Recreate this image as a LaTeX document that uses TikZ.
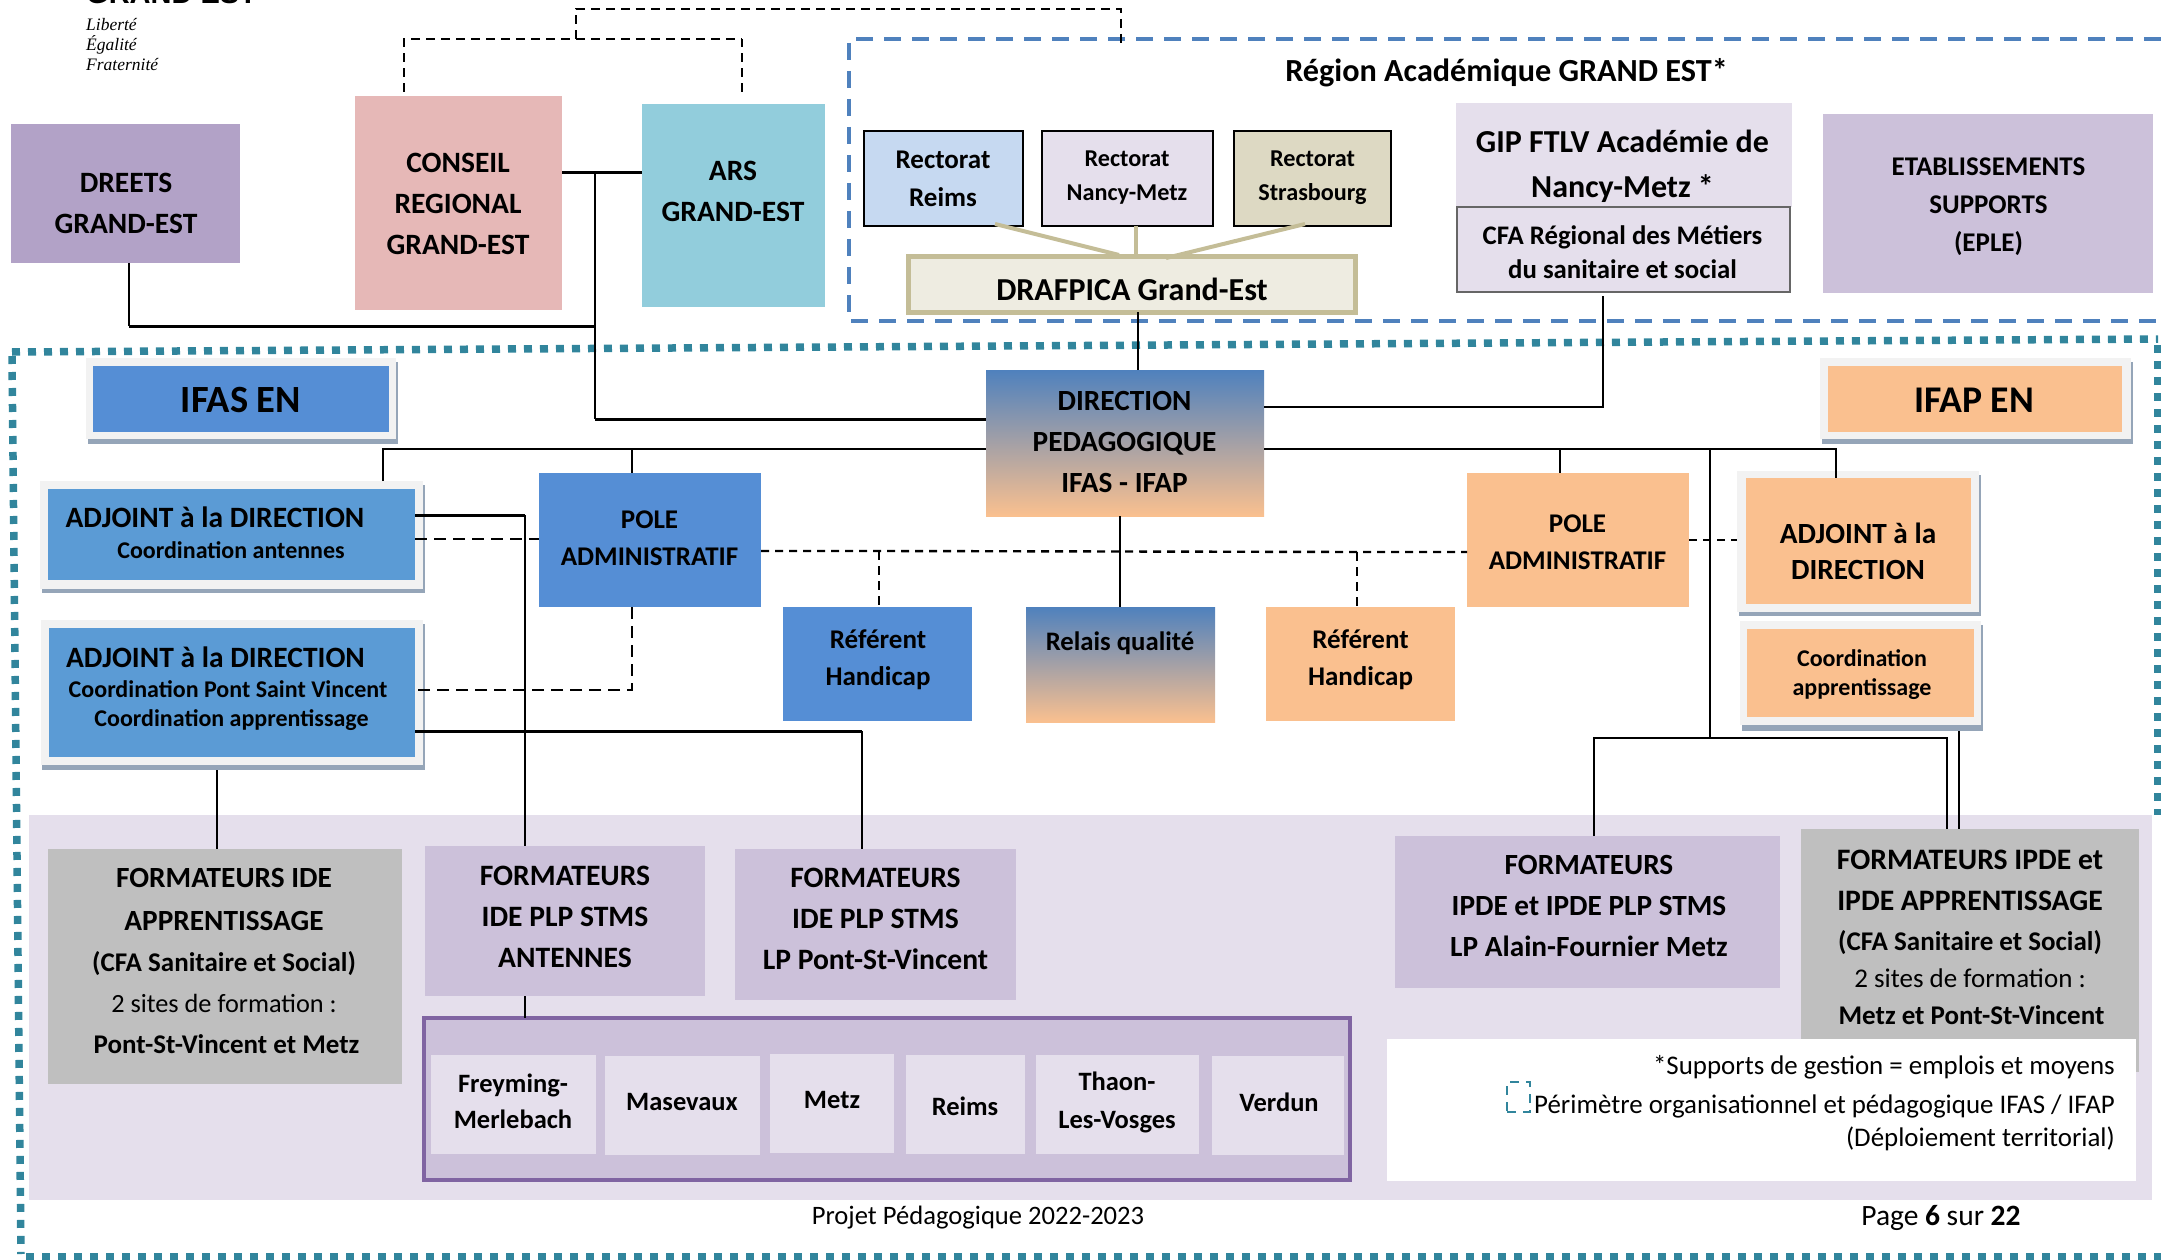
\documentclass[tikz,border=0pt]{standalone}
\usepackage{fontspec}
\setmainfont{Carlito}
\newfontfamily\serifital{Liberation Serif}
\newfontfamily\headsans{Liberation Sans}
\definecolor{cBlue}{HTML}{558ED5}
\definecolor{cBlueB}{HTML}{5B9BD5}
\definecolor{cOrange}{HTML}{FAC08F}
\definecolor{cLav}{HTML}{E5DFEC}
\definecolor{cMauve}{HTML}{CCC1DA}
\definecolor{cGray}{HTML}{BFBFBF}
\definecolor{cShadow}{HTML}{95A5B8}
\definecolor{cTan}{HTML}{C4BD97}
\definecolor{cTeal}{HTML}{31859C}
\definecolor{cDash}{HTML}{4F81BD}
\definecolor{cPanel}{HTML}{F2F2F2}
\definecolor{cDreets}{HTML}{B2A2C7}
\definecolor{cConseil}{HTML}{E6B8B7}
\definecolor{cArs}{HTML}{92CDDC}
\definecolor{cRectA}{HTML}{C6D9F1}
\definecolor{cRectC}{HTML}{DDD9C3}
\definecolor{cDraf}{HTML}{EEECE1}
\definecolor{cCfaLine}{HTML}{666666}
\definecolor{cFrame}{HTML}{8064A2}
\tikzset{
  boxbase/.style={rectangle,inner sep=0pt,outer sep=0pt},
  bf/.style 2 args={font=\fontsize{#1}{#2}\selectfont\bfseries,align=center,inner sep=0pt},
  rg/.style 2 args={font=\fontsize{#1}{#2}\selectfont,align=center,inner sep=0pt},
  conn/.style={draw=black,line width=2pt},
  connthick/.style={draw=black,line width=3pt},
  connthin/.style={draw=black,line width=1.5pt},
  dashthin/.style={draw=black,line width=1.6pt,dash pattern=on 9pt off 6pt},
  dashmid/.style={draw=black,line width=2.4pt,dash pattern=on 8pt off 6pt},
  dashthick/.style={draw=black,line width=2.8pt,dash pattern=on 12pt off 7pt},
  tanline/.style={draw=cTan,line width=4pt},
  tealdash/.style={draw=cTeal,line width=7.5pt,dash pattern=on 8pt off 8pt},
  bluedash/.style={draw=cDash,line width=3.6pt,dash pattern=on 17pt off 11pt},
  gradbox/.style={top color=cDash,bottom color=cOrange},
}
\newcommand{\bx}[6]{\node[boxbase,#6,minimum width={(#4-#2)*1pt},minimum height={(#5-#3)*1pt},anchor=north west] (#1) at (#2,#3) {};}
\newcommand{\tx}[5]{\node[#4] (#1) at (#2,#3) {#5};}
\begin{document}
\begin{tikzpicture}[x=1pt,y=-1pt]
\useasboundingbox (0,0) rectangle (2161,1260);
% logo text
\node[anchor=base west,inner sep=0pt,font=\headsans\fontsize{29}{29}\selectfont\bfseries] (logoHead) at (86,4) {GRAND EST};
\node[anchor=west,align=left,inner sep=0pt,font=\serifital\fontsize{17.5}{20}\selectfont\itshape] (logoMotto) at (86,45) {Liberté\\Égalité\\Fraternité};
% perimeters
\draw[bluedash] (2161,39) -- (849,39) -- (849,321) -- (2161,321);
\draw[tealdash] (12,352) -- (2158,339);
\draw[tealdash] (2158,345) -- (2158,815);
\draw[tealdash] (12,356) -- (21,1254);
\draw[tealdash] (26,1257) -- (2161,1257);
% band
\bx{band}{29}{815}{2152}{1200}{fill=cLav}
% boxes (geometry first for the connector anchors)
\bx{dreets}{11}{124}{240}{263}{fill=cDreets}
\bx{conseil}{355}{96}{562}{310}{fill=cConseil}
\bx{ars}{642}{104}{825}{307}{fill=cArs}
\bx{rectA}{864}{131}{1023}{226}{fill=cRectA,draw=black,line width=2.4pt}
\bx{rectB}{1042}{131}{1213}{226}{fill=cLav,draw=black,line width=2.4pt}
\bx{rectC}{1234}{131}{1391}{226}{fill=cRectC,draw=black,line width=2.4pt}
\bx{drafpica}{908}{257}{1355}{312}{fill=cDraf,draw=cTan,line width=5pt}
\bx{gip}{1456}{103}{1792}{207}{fill=cLav}
\bx{cfa}{1457}{207}{1790}{292}{fill=cLav,draw=cCfaLine,line width=1.6pt}
\bx{etab}{1823}{114}{2153}{293}{fill=cMauve}
\bx{direction}{986}{370}{1264}{516}{gradbox}
\bx{poleL}{539}{473}{761}{607}{fill=cBlue}
\bx{refL}{783}{607}{972}{721}{fill=cBlue}
\bx{relais}{1026}{607}{1215}{722}{gradbox}
\bx{refR}{1266}{607}{1455}{721}{fill=cOrange}
\bx{poleR}{1467}{473}{1689}{607}{fill=cOrange}
\bx{formIde}{47.5}{849}{402}{1084}{fill=cGray}
\bx{formAnt}{425}{846}{705}{996}{fill=cMauve}
\bx{formPsv}{735}{849}{1016}{1000}{fill=cMauve}
\bx{formIpde}{1395}{836}{1780}{988}{fill=cMauve}
\bx{formApp}{1801}{829}{2139}{1072}{fill=cGray}
% panels with shadow
\bx{ifasShadow}{88}{362}{398}{444}{fill=cShadow}
\bx{ifasOut}{86}{358}{396}{439}{fill=cPanel}
\bx{ifas}{93}{366}{389}{432}{fill=cBlue}
\bx{ifapShadow}{1822}{362}{2133}{444}{fill=cShadow}
\bx{ifapOut}{1820}{358}{2131}{439}{fill=cPanel}
\bx{ifap}{1828}{366}{2122}{432}{fill=cOrange}
\bx{adjAShadow}{42}{485}{425}{593}{fill=cShadow}
\bx{adjAOut}{40}{481}{423}{589}{fill=cPanel}
\bx{adjA}{48}{489}{415}{580}{fill=cBlueB}
\bx{adjBShadow}{42}{624}{425}{770}{fill=cShadow}
\bx{adjBOut}{41}{620}{423}{765}{fill=cPanel}
\bx{adjB}{49}{628}{415}{757}{fill=cBlueB}
\bx{adjCShadow}{1739}{475}{1981}{616}{fill=cShadow}
\bx{adjCOut}{1737}{471}{1979}{612}{fill=cPanel}
\bx{adjC}{1746}{478}{1971}{604}{fill=cOrange}
\bx{coordShadow}{1742}{625}{1983}{731}{fill=cShadow}
\bx{coordOut}{1740}{621}{1981}{725}{fill=cPanel}
\bx{coordC}{1747}{629}{1974}{717}{fill=cOrange}
% frame of sites
\bx{frame}{424}{1018}{1350}{1180}{fill=cMauve,draw=cFrame,line width=4.5pt}
\bx{siteA}{431}{1055}{596}{1154}{fill=cLav}
\bx{siteB}{605}{1056}{760}{1155}{fill=cLav}
\bx{siteC}{770}{1054}{894}{1153}{fill=cLav}
\bx{siteD}{906}{1055}{1025}{1154}{fill=cLav}
\bx{siteE}{1036}{1055}{1199}{1154}{fill=cLav}
\bx{siteF}{1212}{1056}{1344}{1155}{fill=cLav}
% legend
\bx{legend}{1387}{1039}{2136}{1181}{fill=white}
\node[boxbase,draw=cTeal,line width=2pt,dash pattern=on 9pt off 7pt,minimum width=23pt,minimum height=30pt,anchor=north west] (legendIcon) at (1507,1082) {};
% named junctions
\coordinate (jTrunk) at (595,173);
\coordinate (jDirL) at (595,419);
\coordinate (jDreets) at (129,326);
\coordinate (jDraf) at (1138,340);
\coordinate (jGip) at (1603,407);
\coordinate (jTopL) at (383,449);
\coordinate (jPoleL) at (632,449);
\coordinate (jPoleR) at (1560,449);
\coordinate (jSpine) at (1710,449);
\coordinate (jAdjC) at (1836,449);
\coordinate (jSpineB) at (1710,738);
\coordinate (jIpde) at (1594,738);
\coordinate (jApp) at (1947,738);
\coordinate (jThin) at (1959,780);
\coordinate (jAdjA) at (525,515);
\coordinate (jAdjADash) at (420,539);
\coordinate (jPoleDashL) at (632,690);
\coordinate (jAdjB) at (862,731);
\coordinate (jAdjBDown) at (217,800);
\coordinate (jRelais) at (1120,560);
\coordinate (jRefL) at (879,551);
\coordinate (jRefR) at (1357,552);
\coordinate (jPoleRDash) at (1715,540);
\coordinate (dTopL) at (404,39);
\coordinate (dTopR) at (742,39);
\coordinate (dTopM) at (576,39);
\coordinate (dUpM) at (576,9);
\coordinate (dUpR) at (1121,9);
\coordinate (dEnd) at (1121,47);
\coordinate (jTanA) at (995,224);
\coordinate (jTanB) at (1136,226);
\coordinate (jTanC) at (1305,224);
\coordinate (jTanAe) at (1119,255);
\coordinate (jTanCe) at (1166,258);
% dashed links at the top
\draw[dashthin,shorten <=4pt] (conseil.north -| dTopL) -- (dTopL) -- (dTopR);
\draw[dashthin,shorten <=12pt] (ars.north -| dTopR) -- (dTopR);
\draw[dashthin] (dTopM) -- (dUpM) -- (dUpR) -- (dEnd);
% solid links, upper part
\draw[connthick] (conseil.east |- jTrunk) -- (ars.west |- jTrunk);
\draw[connthin] (jTrunk) -- (jDirL);
\draw[connthick] (jDirL) -- (direction.west |- jDirL);
\draw[conn] (dreets.south -| jDreets) -- (jDreets);
\draw[connthick] (jDreets) -- (jDreets -| jTrunk);
\draw[conn] (drafpica.south -| jDraf) -- (direction.north -| jDraf);
\draw[conn,shorten <=4pt] (cfa.south -| jGip) -- (jGip) -- (direction.east |- jGip);
\draw[tanline] (jTanA) -- (jTanAe);
\draw[tanline] (jTanB) -- (drafpica.north -| jTanB);
\draw[tanline] (jTanC) -- (jTanCe);
% horizontal bus
\draw[conn] (adjAOut.north -| jTopL) -- (jTopL) -- (direction.west |- jTopL);
\draw[conn] (jPoleL) -- (poleL.north -| jPoleL);
\draw[conn] (direction.east |- jAdjC) -- (jAdjC) -- (adjC.north -| jAdjC);
\draw[conn] (jPoleR) -- (poleR.north -| jPoleR);
\draw[conn] (jSpine) -- (jSpineB);
\draw[conn] (formIpde.north -| jIpde) -- (jIpde) -- (jApp) -- (formApp.north -| jApp);
\draw[connthin] (coordShadow.south -| jThin) -- (formApp.north -| jThin);
% left column links
\draw[connthick] (adjA.east |- jAdjA) -- (jAdjA);
\draw[connthin] (jAdjA) -- (formAnt.north -| jAdjA);
\draw[conn] (formAnt.south -| jAdjA) -- (frame.north -| jAdjA);
\draw[dashthick] (adjA.east |- jAdjADash) -- (poleL.west |- jAdjADash);
\draw[dashthick] (poleL.south -| jPoleDashL) -- (jPoleDashL) -- (adjB.east |- jPoleDashL);
\draw[connthick] (adjB.east |- jAdjB) -- (jAdjB);
\draw[connthin] (jAdjB) -- (formPsv.north -| jAdjB);
\draw[conn] (adjBShadow.south -| jAdjBDown) -- (formIde.north -| jAdjBDown);
\draw[conn] (direction.south -| jRelais) -- (relais.north -| jRelais);
% dashed cross-links
\draw[dashmid] (poleL.east |- jRefL) -- (jRefL) -- (jRefR) -- (poleR.west |- jRefR);
\draw[dashthin] (jRefL) -- (refL.north -| jRefL);
\draw[dashthin] (jRefR) -- (refR.north -| jRefR);
\draw[dashmid] (poleR.east |- jPoleRDash) -- (adjCOut.west |- jPoleRDash);
% texts
\tx{tDreets}{126}{203}{bf={29.5}{41}}{DREETS\\GRAND-EST}
\tx{tConseil}{458}{204}{bf={29.5}{41}}{CONSEIL\\REGIONAL\\GRAND-EST}
\tx{tArs}{733}{191}{bf={29.5}{41}}{ARS\\GRAND-EST}
\tx{tRegion}{1506.5}{73}{bf={32.2}{36}}{Région Académique GRAND EST*}
\tx{tRectA}{943}{179}{bf={27}{38}}{Rectorat\\Reims}
\tx{tRectB}{1127}{178}{bf={24.2}{34}}{Rectorat\\Nancy-Metz}
\tx{tRectC}{1312.5}{178}{bf={24.2}{34}}{Rectorat\\Strasbourg}
\tx{tDraf}{1132}{289}{bf={32}{36}}{DRAFPICA Grand-Est}
\tx{tGip}{1622.5}{166}{bf={32}{45}}{GIP FTLV Académie de\\Nancy-Metz *}
\tx{tCfa}{1622.5}{252}{bf={26.8}{34}}{CFA Régional des Métiers\\du sanitaire et social}
\tx{tEtab}{1988.5}{207}{bf={27}{38}}{ETABLISSEMENTS\\SUPPORTS\\(EPLE)}
\tx{tIfas}{241}{400}{bf={38.5}{40}}{IFAS EN}
\tx{tIfap}{1974}{400}{bf={37.7}{40}}{IFAP EN}
\tx{tDir}{1124.5}{442}{bf={29.3}{41}}{DIRECTION\\PEDAGOGIQUE\\IFAS - IFAP}
\tx{tAdjA}{215}{517}{bf={29.5}{34}}{ADJOINT à la DIRECTION}
\tx{tAdjAb}{231}{550}{bf={24}{28}}{Coordination antennes}
\tx{tAdjB}{215.5}{657}{bf={29.5}{34}}{ADJOINT à la DIRECTION}
\tx{tAdjBb}{228}{706}{bf={24}{29}}{Coordination Pont Saint Vincent\\\hspace*{7pt}Coordination apprentissage}
\tx{tPoleL}{649.5}{538}{bf={27}{37}}{POLE\\ADMINISTRATIF}
\tx{tRefL}{878}{660}{bf={27}{37}}{Référent\\Handicap}
\tx{tRelais}{1120}{643}{bf={26.7}{32}}{Relais qualité}
\tx{tRefR}{1360.5}{660}{bf={27}{37}}{Référent\\Handicap}
\tx{tPoleR}{1577.5}{542}{bf={27}{37}}{POLE\\ADMINISTRATIF}
\tx{tAdjC}{1858}{551}{bf={29.3}{36}}{ADJOINT à la\\DIRECTION}
\tx{tCoord}{1862}{675}{bf={24}{29}}{Coordination\\apprentissage}
\tx{tFormIde}{224}{961}{bf={29.3}{41}}{FORMATEURS IDE\\[2pt]APPRENTISSAGE\\{\fontsize{27}{40}\selectfont (CFA Sanitaire et Social)}\\{\fontsize{26.3}{40}\selectfont\mdseries 2 sites de formation :}\\{\fontsize{27}{40}\selectfont\hspace*{5pt}Pont-St-Vincent et Metz}}
\tx{tFormAnt}{565}{916.5}{bf={29.6}{41}}{FORMATEURS\\IDE PLP STMS\\ANTENNES}
\tx{tFormPsv}{875.5}{919}{bf={29.6}{41}}{FORMATEURS\\IDE PLP STMS\\LP Pont-St-Vincent}
\tx{tFormIpde}{1589}{906}{bf={29.3}{41}}{FORMATEURS\\IPDE et IPDE PLP STMS\\LP Alain-Fournier Metz}
\tx{tFormApp}{1970}{937}{bf={29.7}{37}}{FORMATEURS IPDE et\\[4pt]IPDE APPRENTISSAGE\\[3pt]{\fontsize{27}{37}\selectfont (CFA Sanitaire et Social)}\\{\fontsize{27}{37}\selectfont\mdseries 2 sites de formation :}\\{\fontsize{27}{37}\selectfont\hspace*{3pt}Metz et Pont-St-Vincent}}
\tx{tSiteA}{513}{1101}{bf={26.5}{36}}{Freyming-\\Merlebach}
\tx{tSiteB}{682}{1102}{bf={26.5}{30}}{Masevaux}
\tx{tSiteC}{832}{1100}{bf={26.5}{30}}{Metz}
\tx{tSiteD}{965}{1106}{bf={26.5}{30}}{Reims}
\tx{tSiteE}{1117}{1102.5}{bf={26.5}{38}}{Thaon-\\Les-Vosges}
\tx{tSiteF}{1279}{1102}{bf={26.5}{30}}{Verdun}
\node[anchor=east,align=right,inner sep=0pt,font=\fontsize{26.9}{33}\selectfont] (tLegend) at (2115,1103) {*Supports de gestion = emplois et moyens\\[5.5pt]Périmètre organisationnel et pédagogique IFAS / IFAP\\(Déploiement territorial)};
\tx{tFooter}{978}{1218}{rg={26.6}{30}}{Projet Pédagogique 2022-2023}
\tx{tPage}{1941}{1218}{rg={29.5}{30}}{Page \textbf{6} sur \textbf{22}}
\end{tikzpicture}
\end{document}
